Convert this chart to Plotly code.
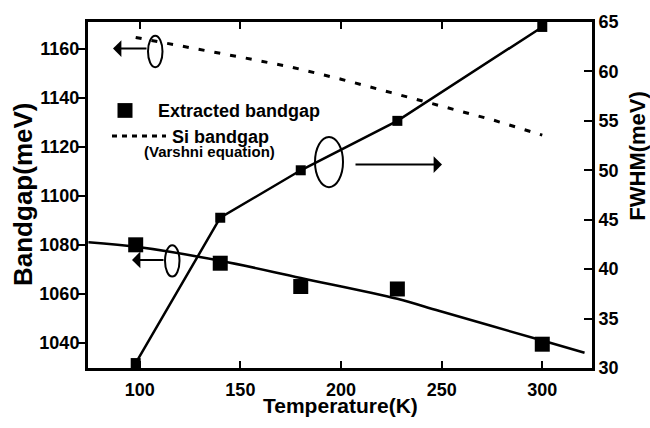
import plotly.graph_objects as go

# ---------------- data ----------------
temps = [98, 140, 180, 228, 300]
bandgap_extracted = [1080, 1072.5, 1063, 1062, 1039.5]
fwhm = [30.5, 45.2, 50, 55, 64.5]

fit_T = [74.5, 100, 140, 180, 228, 249, 300, 321]
fit_E = [1081, 1079, 1073.5, 1066.5, 1058, 1053, 1041, 1036]

si_T = [98, 125, 150, 175, 200, 225, 250, 275, 300]
si_E = [1164.5, 1160.5, 1156.5, 1152.5, 1147.5, 1142, 1136.5, 1131, 1124.7]

x_ticks = [100, 150, 200, 250, 300]
y_ticks = [1040, 1060, 1080, 1100, 1120, 1140, 1160]
y2_ticks = [30, 35, 40, 45, 50, 55, 60, 65]

# ---------------- layout helpers ----------------
L, R, T, B = 88, 592, 16, 368
W, H = R - L, B - T


def P(xpx, ypx):
    return (xpx - L) / W, (B - ypx) / H


FONT = "Liberation Sans, Arial, sans-serif"
BLACK = "black"

fig = go.Figure()

fig.add_trace(go.Scatter(
    x=si_T, y=si_E, mode="lines",
    line=dict(color=BLACK, width=3, dash="6px,10px"),
    yaxis="y", showlegend=False))

fig.add_trace(go.Scatter(
    x=fit_T, y=fit_E, mode="lines",
    line=dict(color=BLACK, width=2.5, shape="spline", smoothing=1.0),
    yaxis="y", showlegend=False))

fig.add_trace(go.Scatter(
    x=temps, y=bandgap_extracted, mode="markers",
    marker=dict(symbol="square", size=15, color=BLACK),
    yaxis="y", showlegend=False, cliponaxis=False))

fig.add_trace(go.Scatter(
    x=temps, y=fwhm, mode="lines+markers",
    line=dict(color=BLACK, width=2.5),
    marker=dict(symbol="square", size=10, color=BLACK),
    yaxis="y2", showlegend=False, cliponaxis=False))

shapes = []
annotations = []

# ellipses
for (x0, y0, x1, y1) in [(148, 30, 162.5, 62), (315, 133, 343, 184), (165, 243, 179.5, 275)]:
    a0, b0 = P(x0, y1)
    a1, b1 = P(x1, y0)
    shapes.append(dict(type="circle", xref="paper", yref="paper",
                       x0=a0, x1=a1, y0=b0, y1=b1,
                       line=dict(color=BLACK, width=2)))

# arrows (head px, tail offset px)
for (hx, hy, dx) in [(113, 43, 35), (442, 161, -88), (132, 258, 33)]:
    ax_, ay_ = P(hx, hy)
    annotations.append(dict(xref="paper", yref="paper", x=ax_, y=ay_,
                            ax=dx, ay=0, text="", showarrow=True,
                            arrowhead=1, arrowsize=1.4, arrowwidth=2,
                            arrowcolor=BLACK, standoff=0))

# legend: square key
a0, b0 = P(117.5, 113.5)
a1, b1 = P(132.5, 98.5)
shapes.append(dict(type="rect", xref="paper", yref="paper",
                   x0=a0, x1=a1, y0=b0, y1=b1,
                   fillcolor=BLACK, line=dict(width=0)))
# legend: dashed key
a0, b0 = P(112, 132)
a1, _ = P(166, 132)
shapes.append(dict(type="line", xref="paper", yref="paper",
                   x0=a0, x1=a1, y0=b0, y1=b0,
                   line=dict(color=BLACK, width=3, dash="5px,5px")))


def txt(text, xpx, ypx, size, xanchor="left", angle=0):
    a, b = P(xpx, ypx)
    annotations.append(dict(xref="paper", yref="paper", x=a, y=b,
                            text="<b>" + text + "</b>",
                            showarrow=False, xanchor=xanchor, yanchor="middle",
                            textangle=angle,
                            font=dict(family=FONT, size=size, color=BLACK)))


txt("Extracted bandgap", 156, 107, 18)
txt("Si bandgap", 170, 133, 18)
txt("(Varshni equation)", 209.5, 148, 15, xanchor="center")

# axis titles
txt("Bandgap(meV)", 23, 192, 26, xanchor="center", angle=-90)
txt("FWHM(meV)", 638, 152, 22, xanchor="center", angle=-90)
txt("Temperature(K)", 340, 406, 21, xanchor="center")

tickfont = dict(family=FONT, size=18, color=BLACK, weight="bold")

fig.update_layout(
    width=650, height=428,
    margin=dict(l=L, r=650 - R, t=T, b=428 - B),
    paper_bgcolor="white", plot_bgcolor="white",
    showlegend=False,
    shapes=shapes, annotations=annotations,
    xaxis=dict(range=[74.3, 324.7], tickvals=x_ticks, ticks="inside",
               ticklen=7, tickwidth=2, tickcolor=BLACK, ticklabelstandoff=3,
               showline=True, linewidth=3, linecolor=BLACK, mirror="ticks",
               showgrid=False, zeroline=False, tickfont=tickfont),
    yaxis=dict(range=[1029.8, 1170.8], tickvals=y_ticks, ticks="outside",
               ticklen=8, tickwidth=2, tickcolor=BLACK, ticklabelstandoff=-6,
               showline=True, linewidth=3, linecolor=BLACK,
               showgrid=False, zeroline=False, tickfont=tickfont),
    yaxis2=dict(range=[30, 65], tickvals=y2_ticks, ticks="inside",
                ticklen=8, tickwidth=2, tickcolor=BLACK, side="right",
                overlaying="y", showline=True, linewidth=3, linecolor=BLACK,
                showgrid=False, zeroline=False, tickfont=tickfont),
)

fig.write_html("out.html")
